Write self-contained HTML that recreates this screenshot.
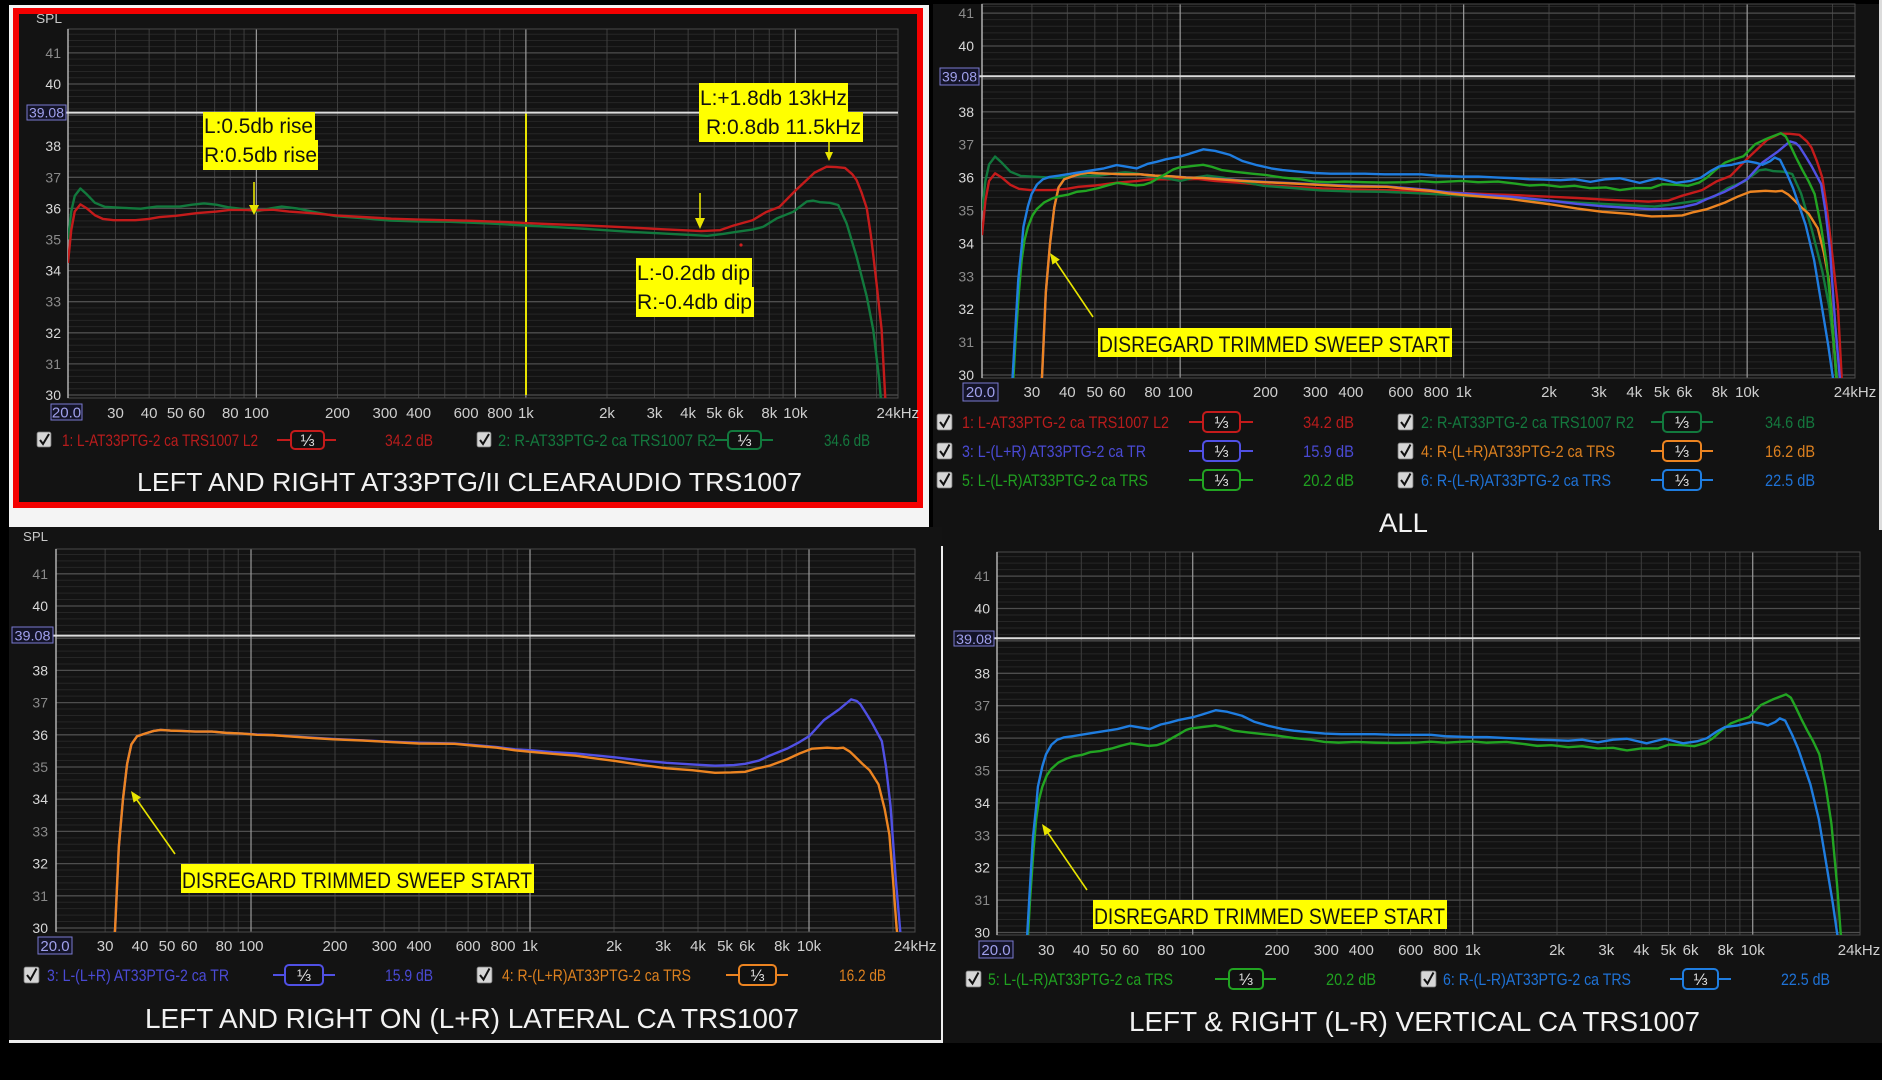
<!DOCTYPE html>
<html><head><meta charset="utf-8"><style>
html,body{margin:0;padding:0;background:#000;width:1882px;height:1080px;overflow:hidden}
svg{display:block;font-family:"Liberation Sans",Arial,sans-serif}
</style></head><body>
<svg width="1882" height="1080" viewBox="0 0 1882 1080" xmlns="http://www.w3.org/2000/svg">
<defs>
<g id="grid" fill="none">
<path vector-effect="non-scaling-stroke" stroke="#262626" stroke-width="1" d="M0 30.2H3.2M0 30.4H3.2M0 30.6H3.2M0 30.8H3.2M0 31.2H3.2M0 31.4H3.2M0 31.6H3.2M0 31.8H3.2M0 32.2H3.2M0 32.4H3.2M0 32.6H3.2M0 32.8H3.2M0 33.2H3.2M0 33.4H3.2M0 33.6H3.2M0 33.8H3.2M0 34.2H3.2M0 34.4H3.2M0 34.6H3.2M0 34.8H3.2M0 35.2H3.2M0 35.4H3.2M0 35.6H3.2M0 35.8H3.2M0 36.2H3.2M0 36.4H3.2M0 36.6H3.2M0 36.8H3.2M0 37.2H3.2M0 37.4H3.2M0 37.6H3.2M0 37.8H3.2M0 38.2H3.2M0 38.4H3.2M0 38.6H3.2M0 38.8H3.2M0 39.2H3.2M0 39.4H3.2M0 39.6H3.2M0 39.8H3.2M0 40.2H3.2M0 40.4H3.2M0 40.6H3.2M0 40.8H3.2M0 41.2H3.2M0 41.4H3.2M0 41.6H3.2M0 41.8H3.2"/>
<path vector-effect="non-scaling-stroke" stroke="#3d3d3d" stroke-width="1" d="M0.17609 29V42.5M0.30103 29V42.5M0.39794 29V42.5M0.47712 29V42.5M0.54407 29V42.5M0.60206 29V42.5M0.65321 29V42.5M1 29V42.5M1.17609 29V42.5M1.30103 29V42.5M1.39794 29V42.5M1.47712 29V42.5M1.54407 29V42.5M1.60206 29V42.5M1.65321 29V42.5M2 29V42.5M2.17609 29V42.5M2.30103 29V42.5M2.39794 29V42.5M2.47712 29V42.5M2.54407 29V42.5M2.60206 29V42.5M2.65321 29V42.5M3 29V42.5"/>
<path vector-effect="non-scaling-stroke" stroke="#4e4e4e" stroke-width="1.3" d="M0 30H3.2M0 31H3.2M0 32H3.2M0 33H3.2M0 34H3.2M0 35H3.2M0 36H3.2M0 37H3.2M0 38H3.2M0 39H3.2M0 40H3.2M0 41H3.2"/>
<path vector-effect="non-scaling-stroke" stroke="#9a9a9a" stroke-width="1.2" d="M0.69897 29V42.5M1.69897 29V42.5M2.69897 29V42.5"/>
</g>
<path id="c1" vector-effect="non-scaling-stroke" fill="none" stroke="#c41b1b" stroke-width="2.4" stroke-linejoin="round" d="M0,34.25 L0.012,35.3 0.025,35.9 0.046,36.13 0.07,36.0 0.1,35.78 0.13,35.66 0.17,35.62 0.25,35.62 0.3,35.66 0.34,35.72 0.4,35.76 0.48,35.85 0.55,35.9 0.6,35.95 0.65,35.95 0.7,35.94 0.76,35.96 0.82,35.9 0.9,35.85 1,35.77 1.1,35.72 1.2,35.67 1.3,35.64 1.4,35.62 1.5,35.6 1.6,35.57 1.7,35.53 1.8,35.49 1.9,35.46 2,35.42 2.1,35.38 2.2,35.33 2.3,35.29 2.35,35.27 2.42,35.3 2.47,35.45 2.54,35.62 2.59,35.88 2.64,36.05 2.7,36.58 2.77,37.15 2.815,37.34 2.85,37.33 2.883,37.3 2.91,37.1 2.926,36.91 2.945,36.5 2.964,36 2.978,35.2 2.988,34.5 3,33.6 3.019,32.1 3.035,29.5"/>
<path id="c2" vector-effect="non-scaling-stroke" fill="none" stroke="#12793d" stroke-width="2.4" stroke-linejoin="round" d="M0,35.0 L0.012,35.9 0.025,36.4 0.046,36.64 0.07,36.45 0.1,36.18 0.137,36.05 0.2,36.02 0.27,35.99 0.33,36.06 0.415,36.06 0.46,36.12 0.505,36.16 0.55,36.12 0.593,36.04 0.65,35.98 0.7,35.9 0.75,36 0.793,36.06 0.85,36 0.905,35.9 0.993,35.75 1.1,35.68 1.194,35.61 1.3,35.58 1.416,35.57 1.55,35.52 1.7,35.45 1.85,35.38 1.972,35.31 2.1,35.24 2.195,35.2 2.3,35.15 2.372,35.12 2.43,35.18 2.484,35.25 2.54,35.32 2.58,35.41 2.63,35.68 2.691,35.89 2.741,36.22 2.765,36.25 2.79,36.2 2.827,36.18 2.858,36.11 2.889,35.52 2.926,34.45 2.964,33.16 2.988,32.09 3.01,30.5 3.02,29.5"/>
<path id="c3" vector-effect="non-scaling-stroke" fill="none" stroke="#5050e4" stroke-width="2.4" stroke-linejoin="round" d="M0.208,29.5 L0.212,30 0.225,32.5 0.24,34.0 0.255,35.1 0.27,35.7 0.29,35.95 0.32,36.04 0.35,36.12 0.375,36.15 0.41,36.13 0.45,36.12 0.5,36.1 0.559,36.1 0.61,36.06 0.668,36.04 0.72,36.01 0.777,35.99 0.85,35.95 0.92,35.91 0.994,35.87 1.1,35.83 1.21,35.78 1.3,35.75 1.428,35.73 1.5,35.68 1.58,35.62 1.645,35.55 1.7,35.52 1.78,35.46 1.862,35.42 2.003,35.3 2.1,35.2 2.188,35.13 2.28,35.08 2.362,35.04 2.43,35.06 2.47,35.1 2.52,35.2 2.557,35.35 2.62,35.57 2.66,35.75 2.7,35.96 2.753,36.46 2.807,36.79 2.85,37.1 2.87,37.05 2.883,36.95 2.905,36.65 2.926,36.35 2.96,35.8 2.975,35 2.991,33.8 3.01,31.5 3.03,29.5"/>
<path id="c4" vector-effect="non-scaling-stroke" fill="none" stroke="#ec8421" stroke-width="2.4" stroke-linejoin="round" d="M0.208,29.5 L0.212,30 0.225,32.5 0.24,34.0 0.255,35.1 0.27,35.7 0.29,35.95 0.32,36.04 0.35,36.12 0.375,36.15 0.41,36.13 0.45,36.12 0.5,36.1 0.559,36.1 0.61,36.06 0.668,36.04 0.72,36 0.777,35.99 0.85,35.94 0.92,35.9 0.994,35.86 1.1,35.82 1.21,35.77 1.3,35.73 1.428,35.72 1.5,35.66 1.58,35.6 1.645,35.52 1.7,35.47 1.78,35.41 1.862,35.35 1.93,35.27 2.003,35.19 2.1,35.06 2.188,34.96 2.28,34.9 2.362,34.82 2.42,34.83 2.47,34.85 2.51,34.95 2.557,35.04 2.62,35.24 2.665,35.42 2.71,35.57 2.764,35.6 2.8,35.58 2.822,35.6 2.845,35.48 2.861,35.35 2.89,35.1 2.916,34.9 2.948,34.46 2.97,33.7 2.987,32.9 3,31.5 3.013,30 3.02,29.5"/>
<path id="c5" vector-effect="non-scaling-stroke" fill="none" stroke="#22a422" stroke-width="2.4" stroke-linejoin="round" d="M0.108,29.5 L0.118,31.0 0.13,32.5 0.14,33.5 0.15,34.1 0.162,34.5 0.178,34.85 0.194,35.05 0.22,35.25 0.249,35.37 0.275,35.44 0.303,35.48 0.335,35.57 0.368,35.6 0.41,35.68 0.445,35.77 0.477,35.84 0.51,35.8 0.542,35.76 0.57,35.78 0.595,35.85 0.625,36 0.65,36.12 0.675,36.25 0.693,36.3 0.74,36.35 0.78,36.39 0.81,36.33 0.845,36.23 0.9,36.17 0.953,36.12 1,36.08 1.06,36 1.12,35.95 1.17,35.88 1.22,35.86 1.28,35.88 1.35,35.86 1.42,35.85 1.495,35.86 1.55,35.89 1.6,35.86 1.69,35.9 1.75,35.86 1.82,35.88 1.88,35.82 1.93,35.76 1.98,35.78 2.04,35.72 2.09,35.75 2.146,35.68 2.2,35.7 2.25,35.62 2.3,35.68 2.36,35.68 2.4,35.8 2.45,35.78 2.49,35.75 2.53,35.85 2.557,36 2.59,36.25 2.62,36.45 2.65,36.55 2.686,36.65 2.728,37.02 2.77,37.19 2.818,37.35 2.835,37.25 2.85,37 2.872,36.6 2.894,36.23 2.915,35.9 2.937,35.5 2.96,34.5 2.98,33.36 3,31.5 3.013,30 3.02,29.5"/>
<path id="c6" vector-effect="non-scaling-stroke" fill="none" stroke="#1f7de0" stroke-width="2.4" stroke-linejoin="round" d="M0.105,29.5 L0.115,31.0 0.128,32.9 0.14,33.9 0.146,34.5 0.162,35.13 0.175,35.5 0.194,35.79 0.215,35.95 0.238,36.02 0.27,36.06 0.3,36.1 0.35,36.17 0.393,36.23 0.43,36.28 0.475,36.38 0.51,36.33 0.546,36.28 0.585,36.42 0.616,36.48 0.65,36.56 0.698,36.64 0.73,36.72 0.781,36.86 0.823,36.81 0.875,36.69 0.92,36.5 0.969,36.38 1.02,36.28 1.06,36.23 1.12,36.18 1.17,36.14 1.23,36.12 1.28,36.12 1.35,36.12 1.42,36.1 1.495,36.1 1.55,36.1 1.6,36.06 1.69,36.03 1.75,36.03 1.82,36 1.88,35.98 1.93,35.95 1.98,35.94 2.04,35.92 2.09,35.95 2.146,35.87 2.2,35.95 2.25,35.98 2.32,35.84 2.385,35.98 2.45,35.84 2.5,35.9 2.536,36 2.57,36.2 2.6,36.34 2.645,36.39 2.699,36.5 2.73,36.45 2.753,36.39 2.78,36.5 2.796,36.61 2.815,36.54 2.84,36.1 2.861,35.68 2.905,34.57 2.935,33.5 2.959,32.26 2.985,30.9 3,30 3.01,29.5"/>
<clipPath id="k1"><rect x="68" y="29" width="830" height="369"/></clipPath>
<clipPath id="k2"><rect x="982" y="4" width="873" height="374"/></clipPath>
<clipPath id="k3"><rect x="56" y="549" width="859" height="383"/></clipPath>
<clipPath id="k4"><rect x="997" y="552" width="863" height="383"/></clipPath>
</defs>

<!-- backgrounds -->
<rect x="0" y="0" width="1882" height="1080" fill="#000"/>
<rect x="9" y="5" width="920" height="522" fill="#f4f4f4"/>
<rect x="13" y="8" width="910" height="500" fill="#f40000"/>
<rect x="19" y="14" width="898" height="488" fill="#131313"/>
<rect x="933" y="4" width="949" height="1039" fill="#121212"/>
<rect x="1879" y="0" width="3" height="530" fill="#dcdcdc"/>
<rect x="9" y="527" width="933" height="514" fill="#131313"/>
<rect x="9" y="1040" width="934" height="3" fill="#eeeeee"/>
<rect x="941" y="546" width="2" height="497" fill="#eeeeee"/>

<!-- ================= PANEL 1 ================= -->
<g clip-path="url(#k1)"><g transform="matrix(269.5,0,0,-31.1,68,1328)"><use href="#grid"/></g></g>
<rect x="68" y="29" width="830" height="369" fill="none" stroke="#4a4a4a" stroke-width="1"/>
<line x1="68" y1="29" x2="68" y2="398" stroke="#b0b0b0" stroke-width="1.5"/>
<line x1="526" y1="112.6" x2="526" y2="395" stroke="#e8e400" stroke-width="2"/>
<line x1="66" y1="112.6" x2="898" y2="112.6" stroke="#dddddd" stroke-width="2"/>
<g clip-path="url(#k1)"><g transform="matrix(269.5,0,0,-31.1,68,1328)"><use href="#c2"/><use href="#c1"/></g></g>
<text x="36" y="23" font-size="13" fill="#c8c8c8" textLength="26" lengthAdjust="spacingAndGlyphs">SPL</text>
<g font-size="14" text-anchor="end">
<text x="61" y="58" fill="#8a8a8a">41</text>
<text x="61" y="89" fill="#d8d8d8">40</text>
<text x="61" y="151.2" fill="#d8d8d8">38</text>
<text x="61" y="182.3" fill="#8a8a8a">37</text>
<text x="61" y="213.4" fill="#d8d8d8">36</text>
<text x="61" y="244.5" fill="#8a8a8a">35</text>
<text x="61" y="275.6" fill="#d8d8d8">34</text>
<text x="61" y="306.7" fill="#8a8a8a">33</text>
<text x="61" y="337.8" fill="#d8d8d8">32</text>
<text x="61" y="368.9" fill="#8a8a8a">31</text>
<text x="61" y="400" fill="#d8d8d8">30</text>
</g>
<rect x="27" y="105" width="39" height="15" fill="#141428" stroke="#7a7ad0" stroke-width="1"/>
<text x="46.5" y="117.5" font-size="14" fill="#a0a0ec" text-anchor="middle" textLength="35" lengthAdjust="spacingAndGlyphs">39.08</text>
<rect x="51" y="404" width="31" height="16" fill="#141428" stroke="#7a7ad0" stroke-width="1"/>
<text x="66.5" y="417.5" font-size="15" fill="#a0a0ec" text-anchor="middle">20.0</text>
<g font-size="15" fill="#cfcfcf" text-anchor="middle">
<text x="115.5" y="418">30</text><text x="149.1" y="418">40</text><text x="175.2" y="418">50</text><text x="196.6" y="418">60</text><text x="230.3" y="418">80</text><text x="256.4" y="418">100</text><text x="337.5" y="418">200</text><text x="385" y="418">300</text><text x="418.6" y="418">400</text><text x="466.1" y="418">600</text><text x="499.8" y="418">800</text><text x="525.9" y="418">1k</text><text x="607" y="418">2k</text><text x="654.5" y="418">3k</text><text x="688.1" y="418">4k</text><text x="714.2" y="418">5k</text><text x="735.6" y="418">6k</text><text x="769.3" y="418">8k</text><text x="795.4" y="418">10k</text><text x="897.8" y="418">24kHz</text>
</g>
<!-- annotations P1 -->
<rect x="203" y="112" width="112" height="28" fill="#ffff00"/>
<rect x="203" y="140" width="115" height="30" fill="#ffff00"/>
<text x="204" y="133" font-size="21" fill="#111" textLength="109" lengthAdjust="spacingAndGlyphs">L:0.5db rise</text>
<text x="204" y="162" font-size="21" fill="#111" textLength="113" lengthAdjust="spacingAndGlyphs">R:0.5db rise</text>
<line x1="254" y1="182" x2="254" y2="206" stroke="#e8e400" stroke-width="1.6"/>
<polygon points="249,205 259,205 254,215" fill="#e8e400"/>
<rect x="699" y="83" width="149" height="29" fill="#ffff00"/>
<rect x="699" y="112" width="164" height="30" fill="#ffff00"/>
<text x="700" y="105" font-size="21" fill="#111" textLength="147" lengthAdjust="spacingAndGlyphs">L:+1.8db 13kHz</text>
<text x="706" y="134" font-size="21" fill="#111" textLength="155" lengthAdjust="spacingAndGlyphs">R:0.8db 11.5kHz</text>
<line x1="829" y1="142" x2="829" y2="153" stroke="#e8e400" stroke-width="1.6"/>
<polygon points="825,152 833,152 829,161" fill="#e8e400"/>
<line x1="700" y1="193" x2="700" y2="219" stroke="#e8e400" stroke-width="1.6"/>
<polygon points="695,218 705,218 700,229" fill="#e8e400"/>
<circle cx="741" cy="245" r="1.6" fill="#d02020"/>
<rect x="636" y="258" width="116" height="29" fill="#ffff00"/>
<rect x="636" y="287" width="118" height="30" fill="#ffff00"/>
<text x="637" y="280" font-size="21" fill="#111" textLength="113" lengthAdjust="spacingAndGlyphs">L:-0.2db dip</text>
<text x="637" y="309" font-size="21" fill="#111" textLength="115" lengthAdjust="spacingAndGlyphs">R:-0.4db dip</text>
<!-- legend P1 -->
<g font-size="17">
<rect x="37" y="432" width="14" height="15" rx="2" fill="#d6d6d6" stroke="#777" stroke-width="0.8"/><path d="M40 440l3 4l6-10" stroke="#111" stroke-width="2" fill="none"/>
<text x="62" y="446" fill="#b81c1c" textLength="196" lengthAdjust="spacingAndGlyphs">1: L-AT33PTG-2 ca TRS1007 L2</text>
<line x1="277" y1="440" x2="336" y2="440" stroke="#c41b1b" stroke-width="2"/>
<rect x="291" y="431" width="33" height="18" rx="4" fill="#111" stroke="#c41b1b" stroke-width="2"/>
<text x="307.5" y="446" fill="#ddd" text-anchor="middle">⅓</text>
<text x="385" y="446" fill="#b81c1c" textLength="48" lengthAdjust="spacingAndGlyphs">34.2 dB</text>
<rect x="477" y="432" width="14" height="15" rx="2" fill="#d6d6d6" stroke="#777" stroke-width="0.8"/><path d="M480 440l3 4l6-10" stroke="#111" stroke-width="2" fill="none"/>
<text x="498" y="446" fill="#14783e" textLength="218" lengthAdjust="spacingAndGlyphs">2: R-AT33PTG-2 ca TRS1007 R2</text>
<line x1="715" y1="440" x2="773" y2="440" stroke="#12793d" stroke-width="2"/>
<rect x="728" y="431" width="33" height="18" rx="4" fill="#111" stroke="#12793d" stroke-width="2"/>
<text x="744.5" y="446" fill="#ddd" text-anchor="middle">⅓</text>
<text x="824" y="446" fill="#14783e" textLength="46" lengthAdjust="spacingAndGlyphs">34.6 dB</text>
</g>
<text x="137" y="491" font-size="26" fill="#f2f2f2" textLength="665" lengthAdjust="spacingAndGlyphs">LEFT AND RIGHT AT33PTG/II CLEARAUDIO TRS1007</text>

<!-- ================= PANEL 2 (ALL) ================= -->
<g clip-path="url(#k2)"><g transform="matrix(283.5,0,0,-32.9,982,1362)"><use href="#grid"/></g></g>
<rect x="982" y="4" width="873" height="374" fill="none" stroke="#4a4a4a" stroke-width="1"/>
<line x1="982" y1="4" x2="982" y2="378" stroke="#b0b0b0" stroke-width="1.5"/>
<line x1="979" y1="76.3" x2="1855" y2="76.3" stroke="#dddddd" stroke-width="2"/>
<g clip-path="url(#k2)"><g transform="matrix(283.5,0,0,-32.9,982,1362)"><use href="#c1"/><use href="#c2"/><use href="#c3"/><use href="#c4"/><use href="#c5"/><use href="#c6"/></g></g>
<g font-size="14" text-anchor="end">
<text x="974" y="18.1" fill="#8a8a8a">41</text>
<text x="974" y="51" fill="#d8d8d8">40</text>
<text x="974" y="116.8" fill="#d8d8d8">38</text>
<text x="974" y="149.7" fill="#8a8a8a">37</text>
<text x="974" y="182.6" fill="#d8d8d8">36</text>
<text x="974" y="215.5" fill="#8a8a8a">35</text>
<text x="974" y="248.4" fill="#d8d8d8">34</text>
<text x="974" y="281.3" fill="#8a8a8a">33</text>
<text x="974" y="314.2" fill="#d8d8d8">32</text>
<text x="974" y="347.1" fill="#8a8a8a">31</text>
<text x="974" y="380" fill="#d8d8d8">30</text>
</g>
<rect x="940" y="68" width="39" height="17" fill="#141428" stroke="#7a7ad0" stroke-width="1"/>
<text x="959.5" y="81.5" font-size="14" fill="#a0a0ec" text-anchor="middle" textLength="35" lengthAdjust="spacingAndGlyphs">39.08</text>
<rect x="963" y="383" width="35" height="18" fill="#141428" stroke="#7a7ad0" stroke-width="1"/>
<text x="980.5" y="397" font-size="15" fill="#a0a0ec" text-anchor="middle">20.0</text>
<g font-size="15" fill="#cfcfcf" text-anchor="middle">
<text x="1031.9" y="397">30</text><text x="1067.3" y="397">40</text><text x="1094.8" y="397">50</text><text x="1117.3" y="397">60</text><text x="1152.7" y="397">80</text><text x="1180.2" y="397">100</text><text x="1265.5" y="397">200</text><text x="1315.4" y="397">300</text><text x="1350.9" y="397">400</text><text x="1400.8" y="397">600</text><text x="1436.2" y="397">800</text><text x="1463.7" y="397">1k</text><text x="1549" y="397">2k</text><text x="1598.9" y="397">3k</text><text x="1634.3" y="397">4k</text><text x="1661.8" y="397">5k</text><text x="1684.3" y="397">6k</text><text x="1719.7" y="397">8k</text><text x="1747.2" y="397">10k</text><text x="1855" y="397">24kHz</text>
</g>
<rect x="1098" y="328" width="354" height="29" fill="#ffff00"/>
<text x="1099" y="352" font-size="22" fill="#111" textLength="351" lengthAdjust="spacingAndGlyphs">DISREGARD TRIMMED SWEEP START</text>
<line x1="1093" y1="317" x2="1056" y2="262" stroke="#e8e400" stroke-width="1.6"/>
<polygon points="1050,253 1059.8,259.6 1052.4,264.6" fill="#e8e400"/>
<g font-size="17">
<!-- row 1 -->
<rect x="937" y="414" width="15" height="16" rx="2" fill="#d6d6d6" stroke="#777" stroke-width="0.8"/><path d="M940 422l3.5 4.5l6-11" stroke="#111" stroke-width="2" fill="none"/>
<text x="962" y="428" fill="#b81c1c" textLength="207" lengthAdjust="spacingAndGlyphs">1: L-AT33PTG-2 ca TRS1007 L2</text>
<line x1="1189" y1="422" x2="1253" y2="422" stroke="#c41b1b" stroke-width="2"/>
<rect x="1203" y="412" width="37" height="20" rx="4" fill="#111" stroke="#c41b1b" stroke-width="2"/>
<text x="1221.5" y="428" fill="#ddd" text-anchor="middle">⅓</text>
<text x="1303" y="428" fill="#b81c1c" textLength="51" lengthAdjust="spacingAndGlyphs">34.2 dB</text>
<rect x="1398" y="414" width="15" height="16" rx="2" fill="#d6d6d6" stroke="#777" stroke-width="0.8"/><path d="M1401 422l3.5 4.5l6-11" stroke="#111" stroke-width="2" fill="none"/>
<text x="1421" y="428" fill="#14783e" textLength="213" lengthAdjust="spacingAndGlyphs">2: R-AT33PTG-2 ca TRS1007 R2</text>
<line x1="1651" y1="422" x2="1713" y2="422" stroke="#12793d" stroke-width="2"/>
<rect x="1663" y="412" width="38" height="20" rx="4" fill="#111" stroke="#12793d" stroke-width="2"/>
<text x="1682" y="428" fill="#ddd" text-anchor="middle">⅓</text>
<text x="1765" y="428" fill="#14783e" textLength="50" lengthAdjust="spacingAndGlyphs">34.6 dB</text>
<!-- row 2 -->
<rect x="937" y="443" width="15" height="16" rx="2" fill="#d6d6d6" stroke="#777" stroke-width="0.8"/><path d="M940 451l3.5 4.5l6-11" stroke="#111" stroke-width="2" fill="none"/>
<text x="962" y="457" fill="#4a4ad4" textLength="184" lengthAdjust="spacingAndGlyphs">3: L-(L+R) AT33PTG-2 ca TR</text>
<line x1="1189" y1="451" x2="1253" y2="451" stroke="#5050e4" stroke-width="2"/>
<rect x="1203" y="441" width="37" height="20" rx="4" fill="#111" stroke="#5050e4" stroke-width="2"/>
<text x="1221.5" y="457" fill="#ddd" text-anchor="middle">⅓</text>
<text x="1303" y="457" fill="#4a4ad4" textLength="51" lengthAdjust="spacingAndGlyphs">15.9 dB</text>
<rect x="1398" y="443" width="15" height="16" rx="2" fill="#d6d6d6" stroke="#777" stroke-width="0.8"/><path d="M1401 451l3.5 4.5l6-11" stroke="#111" stroke-width="2" fill="none"/>
<text x="1421" y="457" fill="#dc801f" textLength="194" lengthAdjust="spacingAndGlyphs">4: R-(L+R)AT33PTG-2 ca TRS</text>
<line x1="1651" y1="451" x2="1713" y2="451" stroke="#ec8421" stroke-width="2"/>
<rect x="1663" y="441" width="38" height="20" rx="4" fill="#111" stroke="#ec8421" stroke-width="2"/>
<text x="1682" y="457" fill="#ddd" text-anchor="middle">⅓</text>
<text x="1765" y="457" fill="#dc801f" textLength="50" lengthAdjust="spacingAndGlyphs">16.2 dB</text>
<!-- row 3 -->
<rect x="937" y="472" width="15" height="16" rx="2" fill="#d6d6d6" stroke="#777" stroke-width="0.8"/><path d="M940 480l3.5 4.5l6-11" stroke="#111" stroke-width="2" fill="none"/>
<text x="962" y="486" fill="#20a020" textLength="186" lengthAdjust="spacingAndGlyphs">5: L-(L-R)AT33PTG-2 ca TRS</text>
<line x1="1189" y1="480" x2="1253" y2="480" stroke="#22a422" stroke-width="2"/>
<rect x="1203" y="470" width="37" height="20" rx="4" fill="#111" stroke="#22a422" stroke-width="2"/>
<text x="1221.5" y="486" fill="#ddd" text-anchor="middle">⅓</text>
<text x="1303" y="486" fill="#20a020" textLength="51" lengthAdjust="spacingAndGlyphs">20.2 dB</text>
<rect x="1398" y="472" width="15" height="16" rx="2" fill="#d6d6d6" stroke="#777" stroke-width="0.8"/><path d="M1401 480l3.5 4.5l6-11" stroke="#111" stroke-width="2" fill="none"/>
<text x="1421" y="486" fill="#1f72d6" textLength="190" lengthAdjust="spacingAndGlyphs">6: R-(L-R)AT33PTG-2 ca TRS</text>
<line x1="1651" y1="480" x2="1713" y2="480" stroke="#1f7de0" stroke-width="2"/>
<rect x="1663" y="470" width="38" height="20" rx="4" fill="#111" stroke="#1f7de0" stroke-width="2"/>
<text x="1682" y="486" fill="#ddd" text-anchor="middle">⅓</text>
<text x="1765" y="486" fill="#1f72d6" textLength="50" lengthAdjust="spacingAndGlyphs">22.5 dB</text>
</g>
<text x="1379" y="532" font-size="27" fill="#f2f2f2" textLength="49" lengthAdjust="spacingAndGlyphs">ALL</text>

<!-- ================= PANEL 3 ================= -->
<g clip-path="url(#k3)"><g transform="matrix(279,0,0,-32.2,56,1894)"><use href="#grid"/></g></g>
<rect x="56" y="549" width="859" height="383" fill="none" stroke="#4a4a4a" stroke-width="1"/>
<line x1="56" y1="549" x2="56" y2="932" stroke="#b0b0b0" stroke-width="1.5"/>
<line x1="53" y1="635.6" x2="915" y2="635.6" stroke="#dddddd" stroke-width="2"/>
<g clip-path="url(#k3)"><g transform="matrix(279,0,0,-32.2,56,1894)"><use href="#c3"/><use href="#c4"/></g></g>
<text x="23" y="541" font-size="13" fill="#c8c8c8" textLength="25" lengthAdjust="spacingAndGlyphs">SPL</text>
<g font-size="14" text-anchor="end">
<text x="48" y="578.8" fill="#8a8a8a">41</text>
<text x="48" y="611" fill="#d8d8d8">40</text>
<text x="48" y="675.4" fill="#d8d8d8">38</text>
<text x="48" y="707.6" fill="#8a8a8a">37</text>
<text x="48" y="739.8" fill="#d8d8d8">36</text>
<text x="48" y="772" fill="#8a8a8a">35</text>
<text x="48" y="804.2" fill="#d8d8d8">34</text>
<text x="48" y="836.4" fill="#8a8a8a">33</text>
<text x="48" y="868.6" fill="#d8d8d8">32</text>
<text x="48" y="900.8" fill="#8a8a8a">31</text>
<text x="48" y="933" fill="#d8d8d8">30</text>
</g>
<rect x="12" y="627" width="41" height="16" fill="#141428" stroke="#7a7ad0" stroke-width="1"/>
<text x="32.5" y="640.5" font-size="14" fill="#a0a0ec" text-anchor="middle" textLength="36" lengthAdjust="spacingAndGlyphs">39.08</text>
<rect x="38" y="937" width="34" height="17" fill="#141428" stroke="#7a7ad0" stroke-width="1"/>
<text x="55" y="951" font-size="15" fill="#a0a0ec" text-anchor="middle">20.0</text>
<g font-size="15" fill="#cfcfcf" text-anchor="middle">
<text x="105.1" y="951">30</text><text x="140" y="951">40</text><text x="167" y="951">50</text><text x="189.1" y="951">60</text><text x="224" y="951">80</text><text x="251" y="951">100</text><text x="335" y="951">200</text><text x="384.3" y="951">300</text><text x="419" y="951">400</text><text x="468.1" y="951">600</text><text x="503" y="951">800</text><text x="530" y="951">1k</text><text x="614" y="951">2k</text><text x="663.1" y="951">3k</text><text x="698" y="951">4k</text><text x="725" y="951">5k</text><text x="747.1" y="951">6k</text><text x="782" y="951">8k</text><text x="809" y="951">10k</text><text x="915.1" y="951">24kHz</text>
</g>
<rect x="181" y="864" width="353" height="29" fill="#ffff00"/>
<text x="182" y="888" font-size="22" fill="#111" textLength="350" lengthAdjust="spacingAndGlyphs">DISREGARD TRIMMED SWEEP START</text>
<line x1="175" y1="854" x2="137" y2="800" stroke="#e8e400" stroke-width="1.6"/>
<polygon points="131,791 141,797.4 133.6,802.6" fill="#e8e400"/>
<g font-size="17">
<rect x="24" y="967" width="15" height="16" rx="2" fill="#d6d6d6" stroke="#777" stroke-width="0.8"/><path d="M27 975l3.5 4.5l6-11" stroke="#111" stroke-width="2" fill="none"/>
<text x="47" y="981" fill="#4a4ad4" textLength="182" lengthAdjust="spacingAndGlyphs">3: L-(L+R) AT33PTG-2 ca TR</text>
<line x1="273" y1="975" x2="335" y2="975" stroke="#5050e4" stroke-width="2"/>
<rect x="285" y="965" width="38" height="20" rx="4" fill="#111" stroke="#5050e4" stroke-width="2"/>
<text x="304" y="981" fill="#ddd" text-anchor="middle">⅓</text>
<text x="385" y="981" fill="#4a4ad4" textLength="48" lengthAdjust="spacingAndGlyphs">15.9 dB</text>
<rect x="477" y="967" width="15" height="16" rx="2" fill="#d6d6d6" stroke="#777" stroke-width="0.8"/><path d="M480 975l3.5 4.5l6-11" stroke="#111" stroke-width="2" fill="none"/>
<text x="502" y="981" fill="#dc801f" textLength="189" lengthAdjust="spacingAndGlyphs">4: R-(L+R)AT33PTG-2 ca TRS</text>
<line x1="726" y1="975" x2="788" y2="975" stroke="#ec8421" stroke-width="2"/>
<rect x="739" y="965" width="37" height="20" rx="4" fill="#111" stroke="#ec8421" stroke-width="2"/>
<text x="757.5" y="981" fill="#ddd" text-anchor="middle">⅓</text>
<text x="839" y="981" fill="#dc801f" textLength="47" lengthAdjust="spacingAndGlyphs">16.2 dB</text>
</g>
<text x="145" y="1028" font-size="28" fill="#f2f2f2" textLength="654" lengthAdjust="spacingAndGlyphs">LEFT AND RIGHT ON (L+R) LATERAL CA TRS1007</text>

<!-- ================= PANEL 4 ================= -->
<g clip-path="url(#k4)"><g transform="matrix(280,0,0,-32.4,997,1904.5)"><use href="#grid"/></g></g>
<rect x="997" y="552" width="863" height="383" fill="none" stroke="#4a4a4a" stroke-width="1"/>
<line x1="997" y1="552" x2="997" y2="935" stroke="#b0b0b0" stroke-width="1.5"/>
<line x1="994" y1="638.3" x2="1860" y2="638.3" stroke="#dddddd" stroke-width="2"/>
<g clip-path="url(#k4)"><g transform="matrix(280,0,0,-32.4,997,1904.5)"><use href="#c5"/><use href="#c6"/></g></g>
<g font-size="14" text-anchor="end">
<text x="990" y="581.1" fill="#8a8a8a">41</text>
<text x="990" y="613.5" fill="#d8d8d8">40</text>
<text x="990" y="678.3" fill="#d8d8d8">38</text>
<text x="990" y="710.7" fill="#8a8a8a">37</text>
<text x="990" y="743.1" fill="#d8d8d8">36</text>
<text x="990" y="775.5" fill="#8a8a8a">35</text>
<text x="990" y="807.9" fill="#d8d8d8">34</text>
<text x="990" y="840.3" fill="#8a8a8a">33</text>
<text x="990" y="872.7" fill="#d8d8d8">32</text>
<text x="990" y="905.1" fill="#8a8a8a">31</text>
<text x="990" y="937.5" fill="#d8d8d8">30</text>
</g>
<rect x="954" y="631" width="40" height="15" fill="#141428" stroke="#7a7ad0" stroke-width="1"/>
<text x="974" y="644" font-size="14" fill="#a0a0ec" text-anchor="middle" textLength="36" lengthAdjust="spacingAndGlyphs">39.08</text>
<rect x="979" y="941" width="34" height="17" fill="#141428" stroke="#7a7ad0" stroke-width="1"/>
<text x="996" y="955" font-size="15" fill="#a0a0ec" text-anchor="middle">20.0</text>
<g font-size="15" fill="#cfcfcf" text-anchor="middle">
<text x="1046.3" y="955">30</text><text x="1081.3" y="955">40</text><text x="1108.4" y="955">50</text><text x="1130.6" y="955">60</text><text x="1165.6" y="955">80</text><text x="1192.7" y="955">100</text><text x="1277" y="955">200</text><text x="1326.3" y="955">300</text><text x="1361.3" y="955">400</text><text x="1410.6" y="955">600</text><text x="1445.6" y="955">800</text><text x="1472.7" y="955">1k</text><text x="1557" y="955">2k</text><text x="1606.3" y="955">3k</text><text x="1641.3" y="955">4k</text><text x="1668.4" y="955">5k</text><text x="1690.6" y="955">6k</text><text x="1725.6" y="955">8k</text><text x="1752.7" y="955">10k</text><text x="1859" y="955">24kHz</text>
</g>
<rect x="1093" y="900" width="354" height="29" fill="#ffff00"/>
<text x="1094" y="924" font-size="22" fill="#111" textLength="351" lengthAdjust="spacingAndGlyphs">DISREGARD TRIMMED SWEEP START</text>
<line x1="1087" y1="890" x2="1048" y2="833" stroke="#e8e400" stroke-width="1.6"/>
<polygon points="1042,824 1051.9,830.6 1044.5,835.6" fill="#e8e400"/>
<g font-size="17">
<rect x="966" y="971" width="15" height="16" rx="2" fill="#d6d6d6" stroke="#777" stroke-width="0.8"/><path d="M969 979l3.5 4.5l6-11" stroke="#111" stroke-width="2" fill="none"/>
<text x="988" y="985" fill="#20a020" textLength="185" lengthAdjust="spacingAndGlyphs">5: L-(L-R)AT33PTG-2 ca TRS</text>
<line x1="1215" y1="979" x2="1276" y2="979" stroke="#22a422" stroke-width="2"/>
<rect x="1229" y="969" width="34" height="20" rx="4" fill="#111" stroke="#22a422" stroke-width="2"/>
<text x="1246" y="985" fill="#ddd" text-anchor="middle">⅓</text>
<text x="1326" y="985" fill="#20a020" textLength="50" lengthAdjust="spacingAndGlyphs">20.2 dB</text>
<rect x="1421" y="971" width="15" height="16" rx="2" fill="#d6d6d6" stroke="#777" stroke-width="0.8"/><path d="M1424 979l3.5 4.5l6-11" stroke="#111" stroke-width="2" fill="none"/>
<text x="1443" y="985" fill="#1f72d6" textLength="188" lengthAdjust="spacingAndGlyphs">6: R-(L-R)AT33PTG-2 ca TRS</text>
<line x1="1670" y1="979" x2="1731" y2="979" stroke="#1f7de0" stroke-width="2"/>
<rect x="1683" y="969" width="35" height="20" rx="4" fill="#111" stroke="#1f7de0" stroke-width="2"/>
<text x="1700.5" y="985" fill="#ddd" text-anchor="middle">⅓</text>
<text x="1781" y="985" fill="#1f72d6" textLength="49" lengthAdjust="spacingAndGlyphs">22.5 dB</text>
</g>
<text x="1129" y="1031" font-size="28" fill="#f2f2f2" textLength="571" lengthAdjust="spacingAndGlyphs">LEFT &amp; RIGHT (L-R) VERTICAL CA TRS1007</text>
</svg>
</body></html>
